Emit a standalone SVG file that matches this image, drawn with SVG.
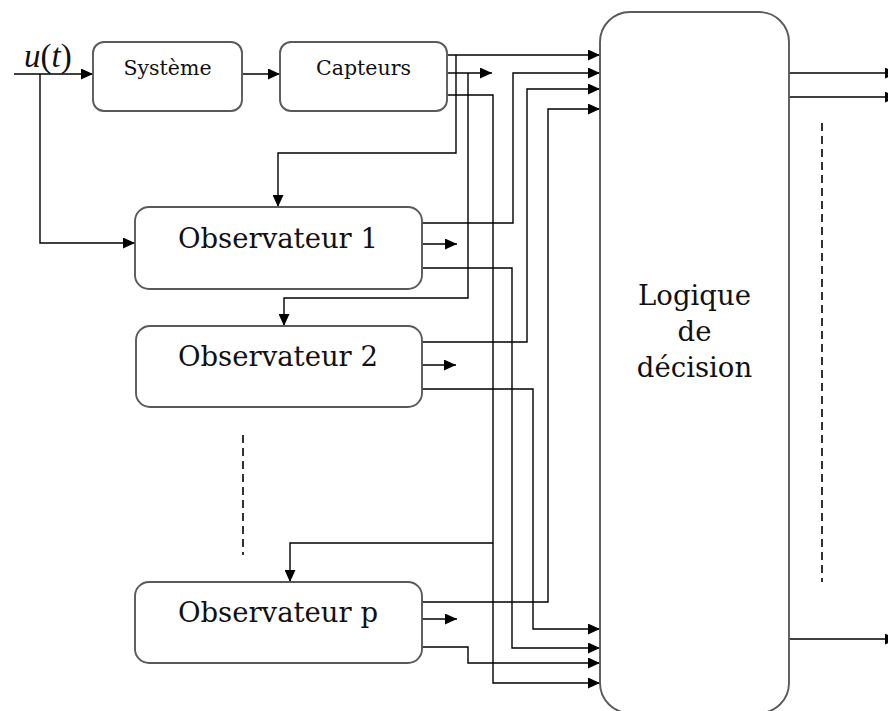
<svg xmlns="http://www.w3.org/2000/svg" width="888" height="711" viewBox="0 0 888 711">
  <style>
    .box { fill: #ffffff; stroke: #5a5a5a; stroke-width: 1.9; }
    .wire { fill: none; stroke: #000000; stroke-width: 1.4; }
    .dash { fill: none; stroke: #000000; stroke-width: 1.6; stroke-dasharray: 8 5; }
    .lbl { font-family: "DejaVu Serif", "Liberation Serif", serif; fill: #111111; text-anchor: middle; }
    .small { font-size: 20.5px; }
    .big { font-size: 27.5px; }
    .math { font-family: "Liberation Serif", "DejaVu Serif", serif; font-size: 33px; fill: #111111; }
  </style>
  <defs>
    <marker id="arrow" markerUnits="userSpaceOnUse" markerWidth="13" markerHeight="11" refX="12" refY="5.5" orient="auto">
      <path d="M0,0 L12,5.5 L0,11 z" fill="#000000"/>
    </marker>
  </defs>

  <rect width="888" height="711" fill="#ffffff"/>

  <!-- input label -->
  <text class="math" x="24" y="67"><tspan font-style="italic">u</tspan>(<tspan font-style="italic">t</tspan>)</text>

  <!-- connectors -->
  <g id="connectors">
    <path class="wire" d="M14,74 H93" marker-end="url(#arrow)"/>
    <path class="wire" d="M40,74 V243 H135" marker-end="url(#arrow)"/>
    <path class="wire" d="M242,74 H280" marker-end="url(#arrow)"/>

    <!-- sensor outputs -->
    <path class="wire" d="M447,55 H600" marker-end="url(#arrow)"/>
    <path class="wire" d="M447,73 H492" marker-end="url(#arrow)"/>
    <path class="wire" d="M447,95 H493 V683 H600" marker-end="url(#arrow)"/>

    <!-- measurements fed to the observers -->
    <path class="wire" d="M456,55 V153 H278 V207" marker-end="url(#arrow)"/>
    <path class="wire" d="M468,73 V298 H284 V326" marker-end="url(#arrow)"/>
    <path class="wire" d="M493,543 H290 V582" marker-end="url(#arrow)"/>

    <!-- observer 1 outputs -->
    <path class="wire" d="M422,223 H513 V73 H600" marker-end="url(#arrow)"/>
    <path class="wire" d="M422,244 H457" marker-end="url(#arrow)"/>
    <path class="wire" d="M422,268 H512 V648 H600" marker-end="url(#arrow)"/>

    <!-- observer 2 outputs -->
    <path class="wire" d="M422,342 H527 V89 H600" marker-end="url(#arrow)"/>
    <path class="wire" d="M422,365 H456" marker-end="url(#arrow)"/>
    <path class="wire" d="M422,389 H533 V629 H600" marker-end="url(#arrow)"/>

    <!-- observer p outputs -->
    <path class="wire" d="M422,602 H548 V109 H600" marker-end="url(#arrow)"/>
    <path class="wire" d="M422,619 H457" marker-end="url(#arrow)"/>
    <path class="wire" d="M422,647 H468 V663 H600" marker-end="url(#arrow)"/>

    <!-- decision outputs -->
    <path class="wire" d="M789,73 H897" marker-end="url(#arrow)"/>
    <path class="wire" d="M789,97 H897" marker-end="url(#arrow)"/>
    <path class="wire" d="M789,639 H897" marker-end="url(#arrow)"/>

    <!-- omitted observers / outputs -->
    <path class="dash" d="M243,435 V555"/>
    <path class="dash" d="M822,123 V582"/>
  </g>

  <g id="systeme">
    <rect class="box" x="93" y="42" width="149" height="69" rx="11"/>
    <text class="lbl small" x="167.5" y="75">Système</text>
  </g>

  <g id="capteurs">
    <rect class="box" x="280" y="42" width="167" height="69" rx="11"/>
    <text class="lbl small" x="363.5" y="75">Capteurs</text>
  </g>

  <g id="observateur-1">
    <rect class="box" x="135" y="207" width="287" height="82" rx="14"/>
    <text class="lbl big" x="278" y="248">Observateur 1</text>
  </g>

  <g id="observateur-2">
    <rect class="box" x="136" y="326" width="286" height="81" rx="14"/>
    <text class="lbl big" x="278" y="366">Observateur 2</text>
  </g>

  <g id="observateur-p">
    <rect class="box" x="135" y="582" width="287" height="81" rx="14"/>
    <text class="lbl big" x="278" y="622">Observateur p</text>
  </g>

  <g id="logique-decision">
    <rect class="box" x="600" y="12" width="189" height="701" rx="30"/>
    <text class="lbl big" x="694.5" y="305">Logique</text>
    <text class="lbl big" x="694.5" y="341">de</text>
    <text class="lbl big" x="694.5" y="377">décision</text>
  </g>
</svg>
